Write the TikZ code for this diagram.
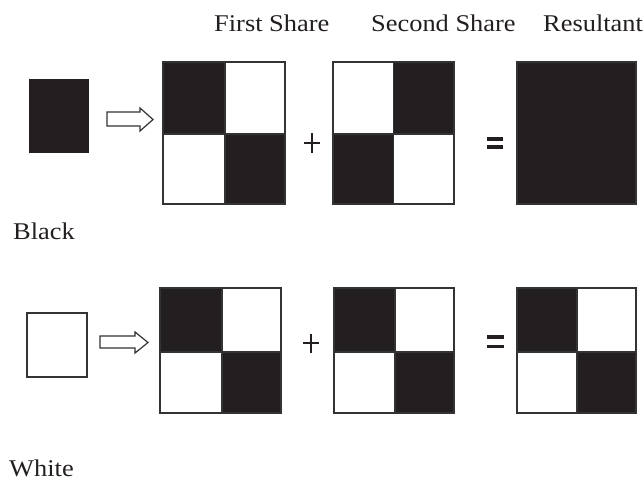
\documentclass[tikz,border=0pt]{standalone}
\usepackage{fontspec}
\setmainfont{Liberation Serif}
\definecolor{ink}{HTML}{231F20}
\definecolor{edge}{HTML}{333333}
\tikzset{
  lab/.style={inner sep=0pt, font=\fontsize{24}{28}\selectfont, text=ink},
  frame/.style={draw=edge, line width=1.3pt},
  blk/.style={fill=ink},
  openarrow/.style={draw=edge, line width=1.2pt, fill=white, line join=miter},
  plusline/.style={draw=ink, line width=2.4pt},
}
\begin{document}
\begin{tikzpicture}[x=1pt,y=-1pt]
\useasboundingbox (0,0) rectangle (644,480);
% headers
\node[lab, anchor=base west] (first) at (214,31) {\scalebox{1.1}[1]{First Share}};
\node[lab, anchor=base west] (second) at (371,31) {\scalebox{1.1}[1]{Second Share}};
\node[lab, anchor=base west] (result) at (543,31) {\scalebox{1.1}[1]{Resultant}};
\node[lab, anchor=base west] (black) at (13,239) {\scalebox{1.1}[1]{Black}};
\node[lab, anchor=base west] (white) at (9,476) {\scalebox{1.1}[1]{White}};

% ---------- Row 1 ----------
\fill[ink] (29,79) rectangle (89,153);
\draw[openarrow] (107,112)--(140,112)--(140,108)--(153,119.5)--(140,131)--(140,126)--(107,126)--cycle;
% first share
\fill[blk] (163,62) rectangle (225,134);
\fill[blk] (225,134) rectangle (285,204);
\draw[frame] (163,62) rectangle (285,204);
\draw[frame] (225,62)--(225,204);
\draw[frame] (163,134)--(285,134);
% plus
\draw[plusline] (304,143)--(320,143);
\draw[plusline] (312,133)--(312,153);
% second share
\fill[blk] (393,62) rectangle (454,134);
\fill[blk] (333,134) rectangle (394,204);
\draw[frame] (333,62) rectangle (454,204);
\draw[frame] (393.5,62)--(393.5,204);
\draw[frame] (333,134)--(454,134);
% equals
\fill[ink] (487,137) rectangle (503,140.5);
\fill[ink] (487,145) rectangle (503,148.5);
% resultant
\fill[blk] (517,62) rectangle (636,204);
\draw[frame] (517,62) rectangle (636,204);

% ---------- Row 2 ----------
\draw[frame] (27,313) rectangle (87,377);
\draw[openarrow] (100,336)--(135,336)--(135,332)--(148,342.5)--(135,353)--(135,348)--(100,348)--cycle;
% first share
\fill[blk] (160,288) rectangle (222,352);
\fill[blk] (222,352) rectangle (281,413);
\draw[frame] (160,288) rectangle (281,413);
\draw[frame] (222,288)--(222,413);
\draw[frame] (160,352)--(281,352);
% plus
\draw[plusline] (303,343)--(319,343);
\draw[plusline] (311,334)--(311,353);
% second share
\fill[blk] (334,288) rectangle (395,352);
\fill[blk] (395,352) rectangle (454,413);
\draw[frame] (334,288) rectangle (454,413);
\draw[frame] (395,288)--(395,413);
\draw[frame] (334,352)--(454,352);
% equals
\fill[ink] (487,335) rectangle (504,338.5);
\fill[ink] (487,344.5) rectangle (504,348);
% resultant
\fill[blk] (517,288) rectangle (577,352);
\fill[blk] (577,352) rectangle (636,413);
\draw[frame] (517,288) rectangle (636,413);
\draw[frame] (577,288)--(577,413);
\draw[frame] (517,352)--(636,352);
\end{tikzpicture}
\end{document}
